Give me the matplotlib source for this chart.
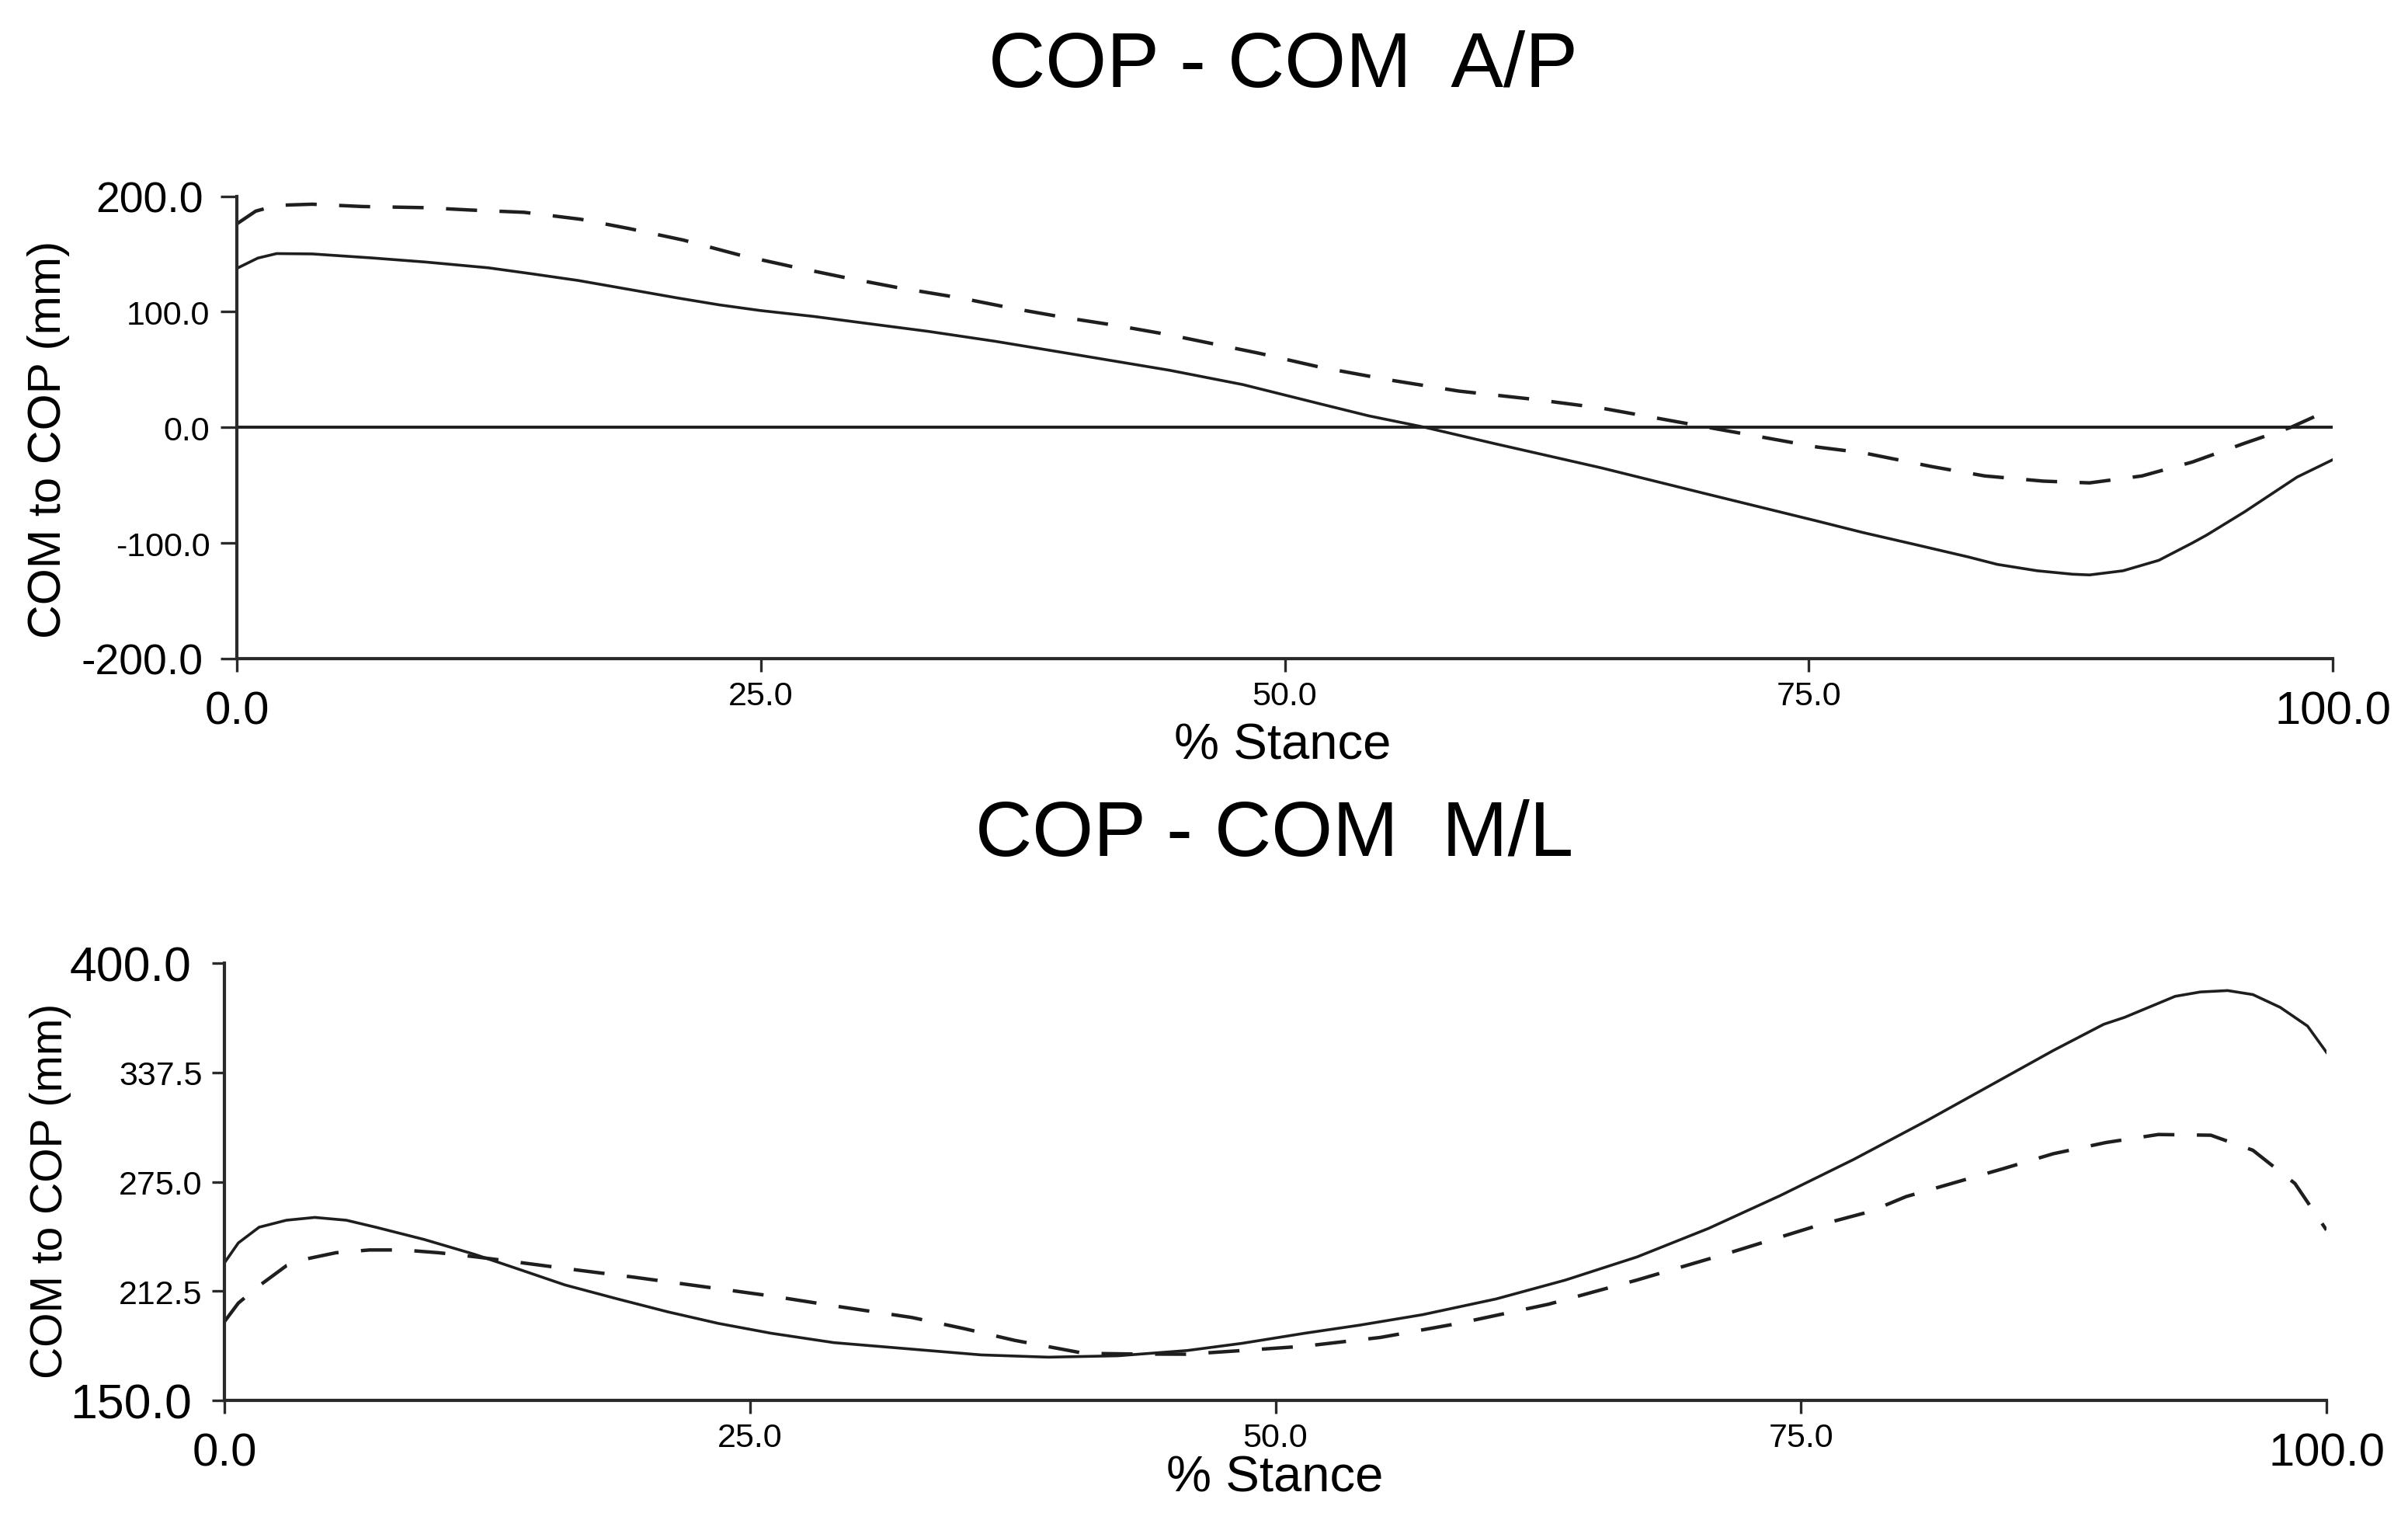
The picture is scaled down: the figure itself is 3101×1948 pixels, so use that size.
import matplotlib
matplotlib.use('Agg')
import matplotlib.pyplot as plt

plt.rcParams['font.family'] = ['Liberation Sans', 'DejaVu Sans']

# --- COP - COM A/P (top panel) ---
ap_x_solid = [0, 1, 1.9, 3.6, 6.4, 9, 12, 14, 16.3, 18.5, 21, 23, 25, 27.5, 29.6, 33, 36.2, 40,
              44.5, 48, 51.7, 54, 56.7, 60, 65.1, 70, 75.4, 77.6, 80, 82.6, 84, 85.9, 87.6, 88.4,
              90, 91.7, 93.3, 94, 95.8, 98.3, 100]
ap_solid = [137.5, 146.4, 150.3, 150, 146.6, 143, 138, 133, 127, 120, 112, 106, 101, 96, 91, 83,
            74.4, 63, 49.4, 37, 20.3, 10, 0, -14, -35, -57, -81, -91, -101, -112, -118.5, -124,
            -127, -127.6, -124, -115, -100, -93, -73, -43, -28]

ap_x_dash = [0, 0.9, 1.9, 3.6, 6, 9, 11.1, 13.7, 16.4, 18.7, 21.3, 24, 26.5, 28.9, 31.5, 34.5, 37,
             39.5, 42, 44.5, 48.8, 51.7, 55, 58.3, 62, 65.1, 70.2, 75.4, 77.6, 80.9, 83.4, 86.2,
             88.4, 90.9, 93.3, 95.8, 98, 99.1, 100]
ap_dash = [176, 187, 192, 193, 191, 190, 188, 186, 180, 172, 162, 149, 139, 130, 121, 112, 103,
           95, 88, 80, 64, 52, 41, 31.4, 24, 16.7, 0, -17, -22, -34, -42, -46.5, -48, -42, -30,
           -13.7, 0, 9, 16]

# --- COP - COM M/L (bottom panel) ---
ml_x_solid = [0, 0.66, 1.65, 2.95, 4.3, 5.8, 7.2, 9.5, 11.9, 14, 16.2, 18.7, 21.1, 23.5, 26, 29,
              32.7, 36, 39.2, 42.5, 45.8, 48.4, 51.4, 54, 57, 60.5, 63.8, 67.2, 70.6, 74, 77.5, 81,
              84.3, 87, 89.4, 90.4, 92.8, 94, 95.3, 96.5, 97.8, 99.1, 100]
ml_solid = [228.6, 240, 249, 253, 254.6, 253, 249, 242, 233.5, 225, 216, 208, 200.6, 194, 188.4,
            183, 179.3, 176, 174.7, 175.5, 178.5, 182.6, 188.4, 193, 199, 208, 218.8, 232, 248.3,
            267, 287.7, 310, 332, 350, 365, 369, 381, 383.5, 384.3, 382, 374.7, 364, 349]

ml_x_dash = [0, 0.66, 1.65, 2.95, 3.95, 5.3, 6.9, 8.5, 10.2, 12, 14.2, 16.8, 19.5, 22.8, 26, 29.3,
             32.7, 35.2, 37.6, 40.9, 43.3, 45.8, 48.4, 51.4, 55, 58.7, 63, 67.2, 71.5, 75.8, 78.3,
             80, 84.6, 87, 89.5, 92, 94.5, 96.5, 98.5, 100]
ml_dash = [195, 205.6, 215.5, 227, 231, 234.4, 236, 236, 234.4, 232, 228.6, 224.5, 220.4, 215,
           209.7, 203.5, 197.4, 191, 184.3, 176.9, 176.5, 176.4, 178.5, 181, 186, 194, 205, 218.8,
           234, 250, 258, 266.5, 282.4, 291, 297.4, 302, 301.6, 293, 274, 247.4]

x_ticks = [0, 25, 50, 75, 100]
ap_yticks = [-200, -100, 0, 100, 200]
ml_yticks = [150, 212.5, 275, 337.5, 400]

LINE = '#1e1e1e'
SPINE = '#2a2a2a'
DASH = (0, (9, 6.5))


def style_axes(ax, yticks, ylim, ytick_len, big_ysize, big_ypad, small_ypad):
    ax.set_xlim(0, 100)
    ax.set_ylim(*ylim)
    for side in ('top', 'right'):
        ax.spines[side].set_visible(False)
    for side in ('left', 'bottom'):
        ax.spines[side].set_linewidth(3.0)
        ax.spines[side].set_color(SPINE)
    ax.set_xticks(x_ticks)
    ax.set_xticklabels([f'{v:.1f}' for v in x_ticks])
    ax.set_yticks(yticks)
    ax.set_yticklabels([f'{v:.1f}' for v in yticks])
    ax.tick_params(axis='x', direction='out', length=12, width=2.4, color=SPINE)
    ax.tick_params(axis='y', direction='out', length=ytick_len, width=2.4, color=SPINE)

    # end labels are drawn larger than the inner ones
    xt = ax.xaxis.get_major_ticks()
    for i, t in enumerate(xt):
        if i in (0, len(xt) - 1):
            t.label1.set_fontsize(43)
            t.set_pad(17)
        else:
            t.label1.set_fontsize(31)
            t.set_pad(8)
    yt = ax.yaxis.get_major_ticks()
    for i, t in enumerate(yt):
        if i in (0, len(yt) - 1):
            t.label1.set_fontsize(big_ysize)
            t.set_pad(big_ypad)
        else:
            t.label1.set_fontsize(31)
            t.set_pad(small_ypad)


fig = plt.figure(figsize=(31.01, 19.49), dpi=100)
W, H = 3101, 1949

# top panel
ax1 = fig.add_axes([305 / W, 1 - 849 / H, 2699 / W, 595.5 / H])
ax1.axhline(0, color=LINE, linewidth=2.8)
ax1.plot(ap_x_solid, ap_solid, color=LINE, linewidth=2.6)
ax1.plot(ap_x_dash, ap_dash, color=LINE, linewidth=3.2, linestyle=DASH)
style_axes(ax1, ap_yticks, (-200, 200), 15, 40, 16, 10)

# bottom panel
ax2 = fig.add_axes([289 / W, 1 - 1804 / H, 2707 / W, 563 / H])
ax2.plot(ml_x_solid, ml_solid, color=LINE, linewidth=2.6)
ax2.plot(ml_x_dash, ml_dash, color=LINE, linewidth=3.2, linestyle=DASH)
style_axes(ax2, ml_yticks, (150, 400), 11.5, 45, 19, 9)

# titles and axis labels placed in figure pixels
fig.text(1652 / W, 1 - 112 / H, 'COP - COM  A/P', fontsize=73, ha='center', va='baseline')
fig.text(1641 / W, 1 - 1102 / H, 'COP - COM  M/L', fontsize=73, ha='center', va='baseline')
fig.text(1652 / W, 1 - 977 / H, '% Stance', fontsize=47, ha='center', va='baseline')
fig.text(1642 / W, 1 - 1921 / H, '% Stance', fontsize=47, ha='center', va='baseline')
fig.text(63 / W, 1 - 566 / H, 'COM to COP (mm)', fontsize=43.5, rotation=90,
         ha='center', va='center')
fig.text(65 / W, 1 - 1533 / H, 'COM to COP (mm)', fontsize=41, rotation=90,
         ha='center', va='center')

fig.savefig('out.png', dpi=100, facecolor='white')
